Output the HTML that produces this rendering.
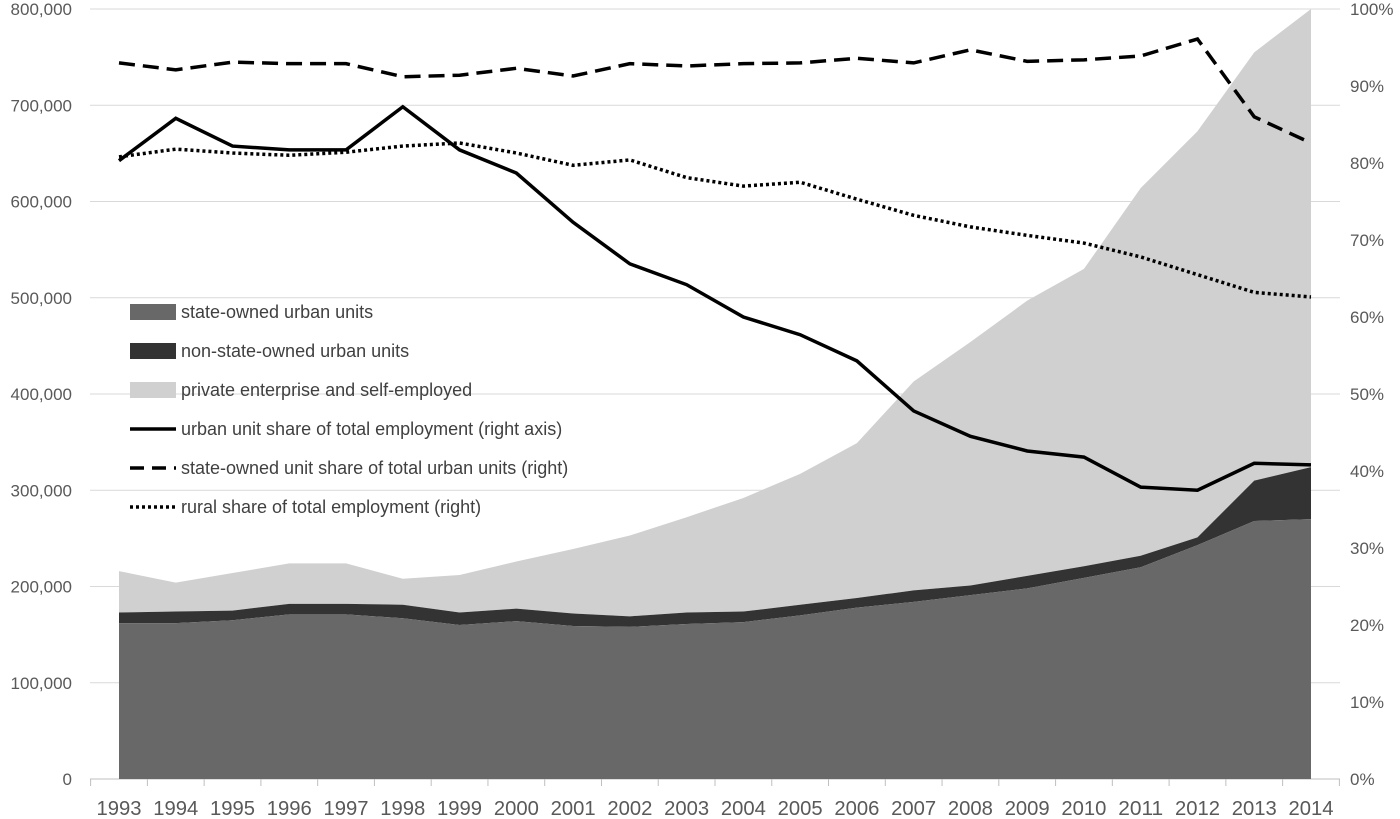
<!DOCTYPE html>
<html><head><meta charset="utf-8"><style>
body{margin:0;background:#fff}
svg{display:block;font-family:"Liberation Sans",sans-serif}
</style></head><body>
<svg id="chart" width="1400" height="819"></svg>
<script>
const years=[1993,1994,1995,1996,1997,1998,1999,2000,2001,2002,2003,2004,2005,2006,2007,2008,2009,2010,2011,2012,2013,2014];
const stateOwned=[162,162,165,171,171,167,160,164,159,158,161,163,170,178,184,191,198,209,220,243,268,270];
const nonState=[11,12,10,11,11,14,13,13,13,11,12,11,11,10,12,10,13,12,12,8,42,54];
const privateEmp=[43,30,39,42,42,27,39,49,67,84,99,118,136,161,217,253,286,309,382,422,445,476];
const urbanShare=[80.3,85.8,82.2,81.7,81.7,87.3,81.7,78.7,72.3,66.9,64.2,60.0,57.7,54.3,47.8,44.5,42.6,41.8,37.9,37.5,41.0,40.8];
const stateShare=[93.0,92.1,93.1,92.9,92.9,91.2,91.4,92.3,91.3,92.9,92.6,92.9,93.0,93.6,93.0,94.7,93.2,93.4,93.9,96.1,86.0,82.6];
const ruralShare=[80.8,81.8,81.3,81.0,81.4,82.2,82.6,81.3,79.7,80.4,78.1,77.0,77.5,75.3,73.2,71.7,70.6,69.6,67.8,65.5,63.2,62.6];
const leftTicks=["0","100,000","200,000","300,000","400,000","500,000","600,000","700,000","800,000"];
const rightTicks=["0%","10%","20%","30%","40%","50%","60%","70%","80%","90%","100%"];

const svg=document.getElementById('chart');
const NS='http://www.w3.org/2000/svg';
const y0=779,y1=9;
const step=(1311-119)/(years.length-1);
const X=i=>119+i*step;
const YL=v=>y0-(v*1000)/800000*(y0-y1);
const YR=p=>y0-p/100*(y0-y1);
function mk(t,a){const e=document.createElementNS(NS,t);for(const k in a)e.setAttribute(k,a[k]);svg.appendChild(e);return e;}

for(let k=0;k<leftTicks.length;k++){
  const y=YL(k*100);
  const g=mk('line',{x1:90,x2:1340,y1:y,y2:y,stroke:k==0?'#bfbfbf':'#d9d9d9','stroke-width':1});
  
  
  const t=mk('text',{x:72,y:y+6,'text-anchor':'end','font-size':17,fill:'#595959'});
  t.textContent=leftTicks[k];
  
  
}
for(let k=0;k<rightTicks.length;k++){
  const y=YR(k*10);
  const t=mk('text',{x:1350,y:y+6,'font-size':17,fill:'#595959'});
  t.textContent=rightTicks[k];
  
  
}
for(let i=0;i<=years.length;i++){
  const x=119-step/2+i*step;
  const tk=mk('line',{x1:x,x2:x,y1:779,y2:786,stroke:'#bfbfbf','stroke-width':1});
  
  
}
years.forEach((yr,i)=>{
  const t=mk('text',{x:X(i),y:815,'text-anchor':'middle','font-size':20,fill:'#595959',textLength:45,lengthAdjust:'spacingAndGlyphs'});
  t.textContent=yr;
  
  
});

function area(lo,hi,fill,name){
  let d='M'+X(0)+','+YL(hi[0]);
  for(let i=1;i<years.length;i++)d+='L'+X(i)+','+YL(hi[i]);
  for(let i=years.length-1;i>=0;i--)d+='L'+X(i)+','+YL(lo[i]);
  const p=mk('path',{d:d+'Z',fill:fill});
  
  
}
const zero=years.map(()=>0);
const c1=stateOwned.slice();
const c2=c1.map((v,i)=>v+nonState[i]);
const c3=c2.map((v,i)=>v+privateEmp[i]);
area(c2,c3,'#d0d0d0','private-area');
area(c1,c2,'#333333','non-state-area');
area(zero,c1,'#686868','state-owned-area');

function line(vals,dash,name){
  const pts=vals.map((v,i)=>X(i)+','+YR(v)).join(' ');
  const a={points:pts,fill:'none',stroke:'#000','stroke-width':3.5};
  if(dash)a['stroke-dasharray']=dash;
  const l=mk('polyline',a);
  
  
}
line(urbanShare,null,'urban-share-line');
line(stateShare,'16,8','state-share-line');
line(ruralShare,'3,3','rural-share-line');

const leg=[
 ['state-owned urban units','rect','#686868'],
 ['non-state-owned urban units','rect','#333333'],
 ['private enterprise and self-employed','rect','#d0d0d0'],
 ['urban unit share of total employment  (right axis)','line',null],
 ['state-owned unit share of total urban units (right)','line','14,8'],
 ['rural share of total employment (right)','line','3,3']];
leg.forEach((l,i)=>{
  const y=312+i*39;
  let s;
  if(l[1]=='rect')s=mk('rect',{x:130,y:y-8,width:46,height:16,fill:l[2]});
  else{const a={x1:130,x2:176,y1:y,y2:y,stroke:'#000','stroke-width':3.5};if(l[2])a['stroke-dasharray']=l[2];s=mk('line',a);}
  
  
  const t=mk('text',{x:181,y:y+6,'font-size':18,fill:'#404040'});
  t.textContent=l[0];
  
  
});
</script>
</body></html>
